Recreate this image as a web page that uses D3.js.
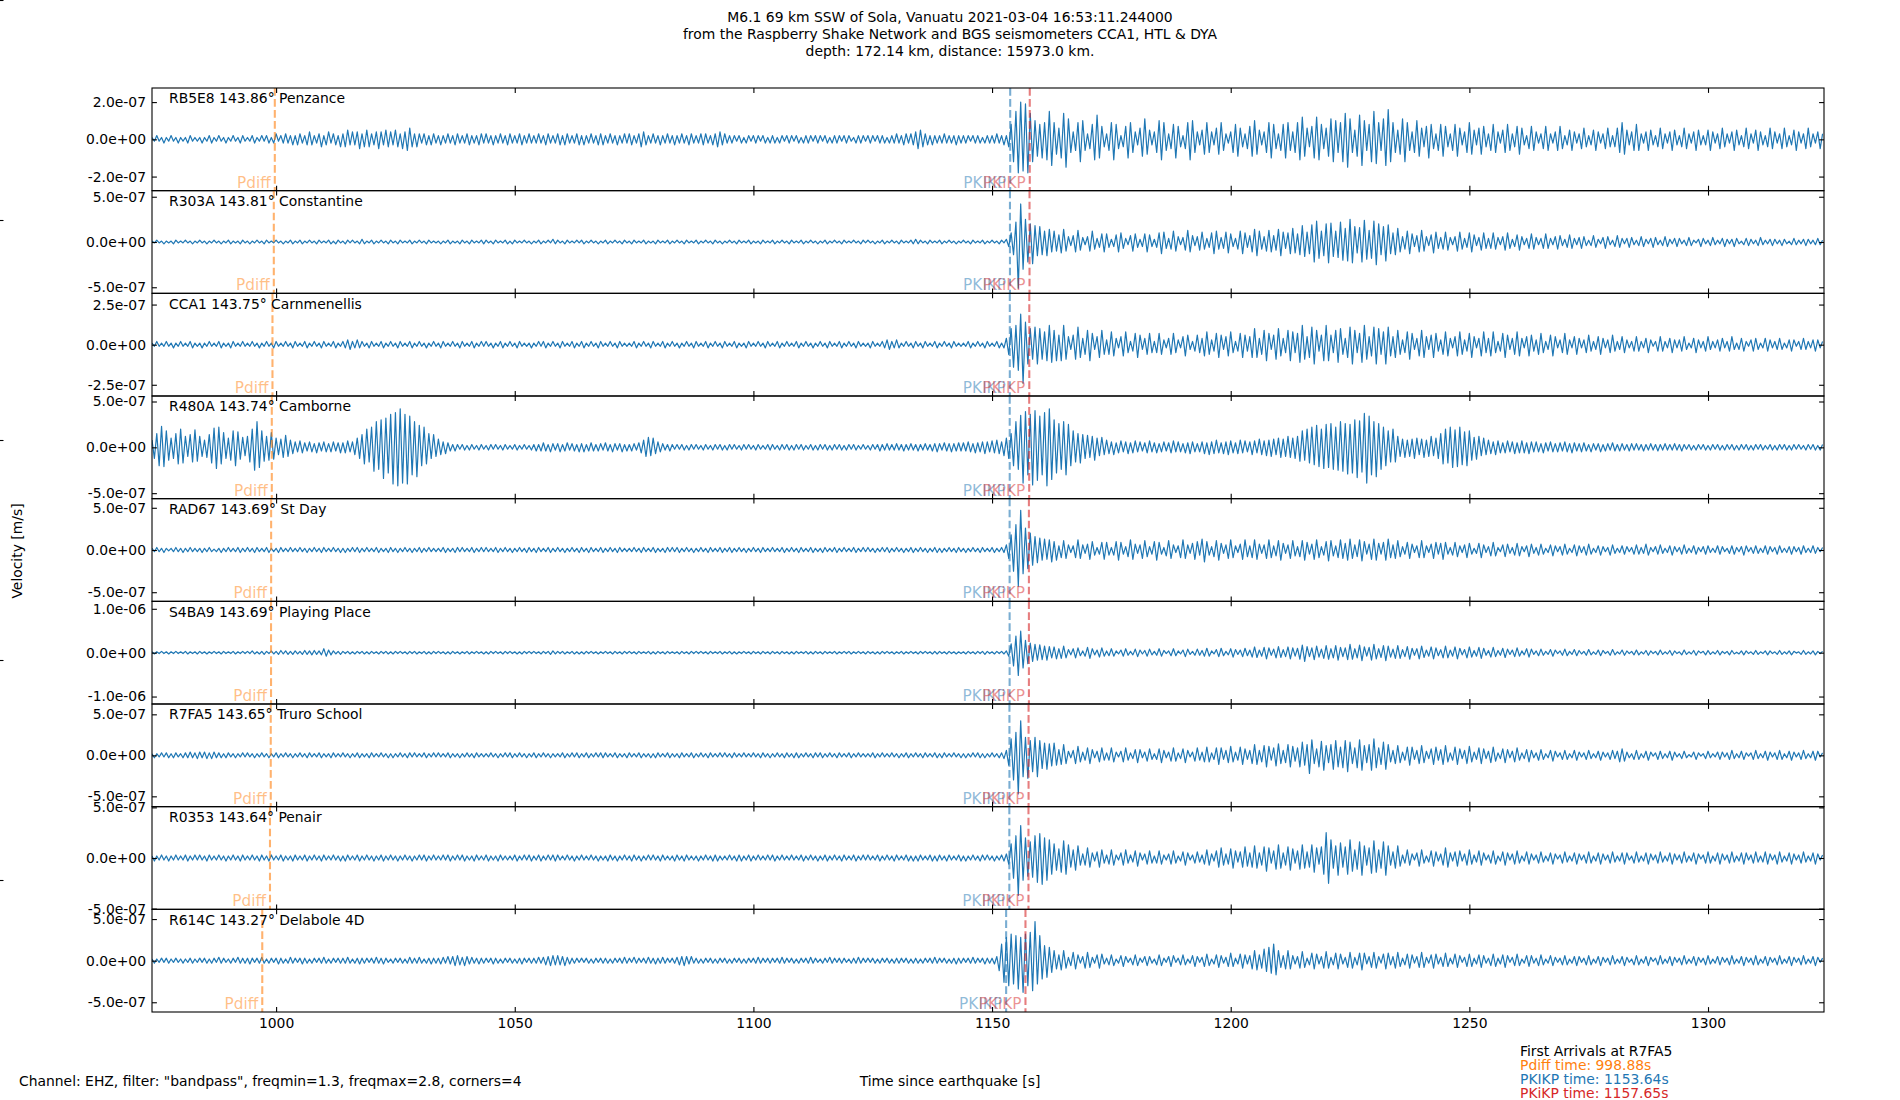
<!DOCTYPE html>
<html><head><meta charset="utf-8">
<script src="https://cdn.jsdelivr.net/npm/d3@7"></script>
<style>body{margin:0;background:#fff} svg{display:block} text{font-family:"DejaVu Sans",sans-serif}</style>
</head><body><svg id="c" width="1900" height="1100"></svg>
<script>
// ---------------- data ----------------
const titleLines = [
  "M6.1 69 km SSW of Sola, Vanuatu 2021-03-04 16:53:11.244000",
  "from the Raspberry Shake Network and BGS seismometers CCA1, HTL & DYA",
  "depth: 172.14 km, distance: 15973.0 km."
];
const stations = ["RB5E8","R303A","CCA1","R480A","RAD67","S4BA9","R7FA5","R0353","R614C"];
const distances = ["143.86","143.81","143.75","143.74","143.69","143.69","143.65","143.64","143.27"];
const places = ["Penzance","Constantine","Carnmenellis","Camborne","St Day","Playing Place","Truro School","Penair","Delabole 4D"];
const pdiffTimes = [999.73,999.52,999.24,999.10,998.96,998.94,998.88,998.72,997.10];
const pkikpTimes = [1153.80,1153.75,1153.72,1153.70,1153.68,1153.68,1153.64,1153.62,1152.95];
const pkikp2Times = [1157.90,1157.85,1157.80,1157.78,1157.72,1157.72,1157.65,1157.63,1157.00];
const yLimits = [2.757e-7,5.67e-7,3.2e-7,5.6e-7,6.08e-7,1.17e-6,6.26e-7,5.07e-7,6.17e-7];
const yTickValues = [2e-7,5e-7,2.5e-7,5e-7,5e-7,1e-6,5e-7,5e-7,5e-7];
const xTickValues = [1000,1050,1100,1150,1200,1250,1300];
const xDomain = [974.0,1324.3];
const tStart = 974, dt = 0.5;   // sample times: tStart + i*dt  [s]
const unit = 1e-8;              // trace values are in units of 1e-8 m/s
const arrivalNames = ["Pdiff","PKIKP","PKiKP"];
const firstArrivals = ["First Arrivals at R7FA5","Pdiff time: 998.88s","PKIKP time: 1153.64s","PKiKP time: 1157.65s"];
const footer = 'Channel: EHZ, filter: "bandpass", freqmin=1.3, freqmax=2.8, corners=4';

const traceRB5E8 = [
1,-1,2,-1,1,-2,1,-1,2,-1,1,-2,1,-1,1,-2,2,-1,1,-1,
1,-2,1,-1,2,-2,1,-1,2,-1,1,-2,1,-1,2,-1,1,-2,2,-1,
1,-1,2,-2,1,-1,2,-1,2,-2,1,-2,3,-1,2,-2,3,-2,2,-3,
2,-3,3,-2,2,-3,4,-3,2,-2,3,-4,2,-3,4,-2,3,-3,2,-4,
3,-4,5,-3,4,-3,4,-5,3,-4,5,-4,3,-3,4,-5,4,-3,5,-4,
4,-3,5,-4,3,-5,4,-6,6,-4,3,-4,3,-2,3,-3,2,-3,3,-2,
2,-3,2,-2,3,-2,2,-3,3,-2,2,-2,3,-3,2,-2,2,-3,3,-2,
3,-2,2,-3,2,-2,3,-2,2,-3,3,-2,2,-2,3,-3,2,-2,3,-2,
2,-2,3,-2,2,-3,3,-2,2,-2,3,-3,2,-3,3,-2,2,-2,3,-3,
2,-3,2,-2,3,-2,2,-3,3,-3,2,-2,3,-2,2,-3,2,-2,3,-2,
3,-3,2,-2,3,-4,4,-3,2,-2,3,-2,2,-3,2,-2,3,-2,2,-3,
2,-2,3,-2,2,-3,3,-2,2,-2,3,-3,3,-2,2,-3,3,-4,4,-3,
3,-2,2,-2,2,-1,2,-2,1,-2,2,-1,2,-2,2,-1,2,-2,1,-2,
2,-2,1,-2,2,-1,2,-2,2,-1,2,-2,1,-2,2,-2,2,-1,2,-2,
2,-1,2,-2,1,-2,2,-2,2,-1,2,-2,2,-1,1,-2,2,-2,2,-1,
2,-2,2,-1,2,-2,2,-2,1,-2,2,-2,3,-2,2,-3,3,-2,3,-3,
4,-5,5,-4,3,-3,2,-3,2,-2,2,-2,3,-2,2,-2,2,-3,2,-2,
2,-2,2,-1,2,-2,2,-2,1,-2,2,-2,2,-2,3,-2,2,-3,2,-4,
8,-12,15,-18,20,-17,19,-18,14,-12,10,-9,8,-10,9,-11,15,-14,9,-8,
6,-10,14,-15,11,-7,4,-6,9,-12,10,-6,3,-5,8,-11,13,-10,7,-4,
3,-6,9,-11,8,-5,2,-4,7,-10,9,-7,4,-3,6,-9,11,-8,5,-3,
4,-7,10,-11,9,-6,3,-5,8,-10,7,-4,2,-5,9,-11,10,-7,4,-3,
5,-8,9,-7,4,-3,6,-8,9,-6,3,-2,4,-7,8,-9,6,-4,3,-5,
7,-9,10,-8,5,-3,4,-7,9,-10,8,-5,3,-6,8,-10,9,-6,4,-7,
9,-11,12,-9,6,-4,7,-10,12,-11,8,-5,6,-9,11,-12,10,-7,9,-12,
14,-15,11,-7,5,-9,13,-14,10,-6,8,-12,15,-13,9,-6,11,-14,16,-12,
9,-7,5,-8,11,-12,9,-6,4,-7,10,-9,6,-4,7,-10,8,-5,3,-6,
8,-9,7,-4,3,-6,8,-9,6,-3,4,-7,9,-8,5,-3,6,-8,7,-4,
3,-6,8,-7,4,-2,5,-7,8,-6,3,-4,7,-8,6,-3,2,-5,7,-6,
4,-2,3,-5,7,-6,3,-2,4,-6,7,-5,2,-3,5,-6,4,-2,3,-5,
6,-4,2,-3,5,-6,4,-2,3,-5,6,-4,2,-4,6,-7,9,-8,5,-3,
4,-6,8,-6,3,-2,4,-6,5,-3,2,-4,6,-5,3,-2,4,-6,5,-3,
2,-4,6,-5,3,-2,4,-6,5,-3,2,-3,5,-6,4,-2,3,-5,6,-4,
3,-2,4,-6,5,-3,2,-4,6,-5,3,-2,5,-6,4,-3,2,-4,6,-5,
4,-2,3,-5,6,-4,2,-3,5,-6,4,-2,3,-5,6,-4,3,-2,4,-5,
3];
const traceR303A = [
1,-1,2,-1,1,-2,1,-1,1,-2,2,-1,1,-1,2,-1,1,-2,1,-1,
2,-1,1,-2,1,-1,2,-1,1,-2,1,-1,2,-2,1,-1,1,-2,2,-1,
1,-2,1,-1,2,-1,1,-2,2,-1,1,-1,2,-1,1,-2,1,-1,2,-2,
1,-1,2,-2,1,-1,2,-1,1,-2,2,-1,1,-1,2,-2,1,-2,2,-1,
1,-2,2,-1,2,-1,1,-2,3,-2,1,-1,2,-2,1,-1,2,-1,1,-2,
2,-1,1,-2,2,-1,1,-1,2,-2,1,-1,2,-1,1,-2,2,-1,1,-1,
1,-2,1,-1,2,-2,1,-1,1,-2,2,-1,1,-2,2,-1,1,-1,2,-2,
2,-1,1,-2,2,-1,1,-1,2,-2,1,-2,2,-1,1,-1,2,-1,1,-2,
1,-1,2,-2,1,-1,2,-1,3,-2,2,-1,1,-2,2,-1,1,-1,2,-1,
2,-2,1,-1,2,-1,1,-2,1,-1,2,-2,1,-1,2,-1,1,-2,2,-1,
1,-2,2,-1,1,-1,2,-2,1,-1,1,-2,2,-1,1,-1,2,-2,1,-1,
2,-1,1,-2,2,-1,1,-1,2,-2,1,-1,2,-1,1,-2,2,-1,1,-2,
1,-1,2,-1,1,-2,2,-1,1,-1,2,-2,1,-1,1,-2,2,-1,1,-1,
2,-2,1,-1,2,-1,1,-2,2,-1,1,-1,2,-2,1,-1,2,-1,1,-2,
1,-1,2,-2,1,-1,2,-1,1,-2,2,-1,1,-1,2,-1,1,-2,2,-1,
2,-1,1,-2,1,-1,2,-2,1,-1,2,-1,1,-2,2,-1,1,-1,2,-2,
3,-2,2,-1,1,-2,2,-1,1,-1,2,-2,1,-1,2,-1,1,-2,1,-1,
2,-1,1,-2,2,-1,1,-1,2,-2,1,-1,2,-1,1,-2,2,-1,3,-5,
10,-14,22,-51,42,-30,25,-22,20,-24,18,-15,17,-14,12,-15,14,-11,12,-10,
8,-12,14,-10,6,-4,7,-11,13,-9,5,-3,6,-10,12,-8,4,-6,9,-11,
9,-6,3,-5,8,-11,10,-7,4,-3,7,-10,9,-6,3,-5,9,-11,8,-5,
3,-6,10,-13,11,-7,4,-8,12,-10,6,-3,5,-9,13,-11,7,-4,6,-9,
11,-8,4,-6,10,-13,12,-8,5,-7,11,-12,9,-5,4,-8,12,-13,10,-6,
7,-11,14,-15,12,-8,6,-10,13,-11,7,-9,14,-15,11,-7,10,-13,15,-12,
9,-14,18,-16,11,-13,19,-22,23,-18,12,-15,20,-23,21,-16,12,-17,22,-20,
15,-21,25,-23,17,-12,16,-22,24,-19,13,-18,23,-25,20,-14,17,-21,19,-13,
10,-14,15,-11,6,-8,12,-13,9,-5,7,-11,13,-10,6,-4,8,-12,11,-7,
5,-8,11,-9,5,-3,6,-10,11,-8,4,-6,10,-11,8,-4,5,-9,10,-7,
4,-7,10,-8,5,-3,6,-9,10,-7,3,-5,8,-9,6,-3,4,-7,9,-8,
5,-3,4,-7,9,-7,4,-3,6,-8,7,-4,3,-6,8,-7,4,-3,5,-7,
6,-4,2,-4,7,-6,3,-2,5,-7,6,-3,2,-5,7,-6,4,-2,4,-6,
5,-3,2,-4,6,-5,3,-2,4,-6,5,-3,2,-4,6,-5,3,-2,4,-5,
4,-2,2,-4,5,-4,2,-1,3,-5,4,-2,2,-4,5,-3,2,-2,4,-5,
3,-2,3,-5,4,-2,1,-3,4,-4,3,-2,2,-4,5,-3,2,-2,3,-4,
3,-2,2,-4,3,-2,1,-3,4,-3,2,-2,3,-4,3,-2,2,-3,4,-3,
2];
const traceCCA1 = [
1,-1,2,-1,1,-1,2,-1,1,-2,1,-1,2,-1,1,-1,2,-2,1,-1,
1,-2,1,-1,2,-1,1,-1,2,-2,1,-1,1,-2,2,-1,1,-1,2,-1,
1,-1,2,-1,1,-2,1,-1,2,-1,1,-2,2,-1,1,-1,2,-1,1,-2,
2,-1,1,-1,2,-2,1,-1,2,-1,1,-2,2,-1,1,-1,2,-2,1,-1,
2,-2,3,-3,2,-2,3,-2,2,-1,1,-2,2,-1,1,-1,2,-2,1,-1,
2,-1,1,-2,2,-1,1,-1,2,-2,1,-1,2,-1,1,-2,1,-1,2,-1,
1,-2,2,-1,1,-1,2,-1,1,-2,2,-1,1,-1,2,-2,1,-1,2,-1,
2,-1,1,-2,1,-1,2,-2,1,-1,2,-1,1,-2,2,-1,1,-1,1,-2,
1,-1,2,-1,2,-2,1,-1,2,-1,1,-2,2,-1,1,-1,2,-2,1,-1,
2,-2,1,-1,2,-1,1,-2,2,-1,1,-1,2,-1,1,-2,2,-1,1,-1,
1,-1,2,-2,1,-1,2,-1,1,-2,2,-1,1,-1,2,-2,1,-1,2,-1,
1,-2,1,-1,2,-1,1,-2,2,-1,1,-1,2,-2,1,-1,2,-1,1,-2,
2,-1,1,-1,2,-2,1,-1,1,-2,2,-1,1,-1,2,-1,1,-2,2,-1,
1,-1,2,-2,1,-1,2,-1,1,-1,2,-2,1,-1,2,-1,1,-2,1,-1,
2,-1,1,-2,2,-1,1,-1,2,-2,1,-1,2,-1,1,-2,2,-1,1,-1,
1,-2,2,-1,1,-1,2,-2,3,-3,2,-2,3,-2,1,-1,2,-1,1,-2,
2,-1,1,-2,2,-1,1,-1,2,-2,1,-1,2,-1,1,-2,2,-1,1,-1,
1,-1,2,-2,1,-1,2,-1,1,-2,2,-1,1,-1,2,-2,1,-2,4,-6,
10,-14,12,-16,19,-24,14,-12,10,-9,11,-12,10,-9,8,-10,12,-11,9,-10,
6,-10,12,-9,5,-3,6,-9,11,-8,4,-6,9,-10,7,-3,5,-8,9,-6,
3,-6,8,-7,4,-2,5,-7,8,-5,2,-4,7,-8,6,-3,4,-6,7,-5,
2,-5,7,-6,3,-2,4,-6,7,-5,3,-2,5,-7,6,-3,2,-4,6,-5,
4,-7,8,-6,3,-4,7,-8,6,-3,5,-7,8,-5,2,-4,7,-8,6,-4,
5,-8,10,-8,4,-6,9,-10,7,-3,6,-9,10,-7,4,-5,9,-10,8,-5,
7,-11,12,-9,5,-8,11,-12,9,-4,6,-10,12,-10,6,-5,9,-11,10,-6,
4,-8,11,-12,9,-5,7,-11,12,-9,5,-7,11,-12,10,-6,8,-12,11,-7,
5,-8,9,-6,3,-5,8,-9,7,-3,4,-7,9,-8,5,-3,6,-8,7,-4,
3,-6,8,-7,4,-2,5,-7,8,-6,3,-4,7,-8,5,-2,4,-7,8,-5,
4,-7,8,-5,2,-4,7,-8,6,-3,4,-6,8,-7,4,-2,5,-7,6,-4,
3,-6,7,-5,2,-3,6,-7,5,-2,3,-5,7,-6,3,-2,5,-6,4,-2,
3,-5,6,-4,2,-3,5,-6,4,-2,3,-5,6,-4,2,-3,5,-5,3,-2,
2,-4,5,-4,2,-2,4,-5,3,-1,2,-4,5,-4,2,-2,4,-5,3,-2,
3,-4,5,-3,1,-2,4,-5,3,-2,2,-4,5,-3,2,-2,3,-4,4,-2,
2,-4,5,-3,1,-3,4,-4,2,-1,3,-4,4,-3,1,-2,4,-4,3,-2,
2,-3,4,-3,1,-2,3,-4,3,-1,2,-3,4,-3,2,-2,3,-4,3,-2,
2];
const traceR480A = [
8,-12,15,-20,23,-21,18,-14,10,-12,15,-18,20,-17,12,-10,14,-16,19,-15,
12,-10,8,-11,14,-17,21,-23,22,-18,16,-12,10,-14,18,-20,17,-13,11,-9,
12,-16,20,-25,28,-22,18,-15,12,-14,16,-13,10,-8,9,-11,13,-10,8,-7,
6,-5,7,-6,5,-4,6,-5,4,-6,5,-4,6,-5,4,-5,6,-4,5,-6,
5,-6,7,-5,6,-8,10,-12,14,-18,20,-16,22,-26,28,-24,30,-34,32,-28,
36,-40,38,-42,42,-39,36,-40,34,-30,28,-32,24,-20,22,-18,15,-12,14,-10,
9,-8,6,-7,5,-4,3,-4,3,-2,3,-3,2,-3,3,-2,2,-3,3,-2,
2,-3,3,-2,3,-2,2,-3,3,-2,2,-2,3,-3,2,-2,3,-2,2,-3,
3,-4,3,-4,5,-4,3,-5,4,-3,4,-5,3,-4,5,-3,4,-4,3,-5,
4,-5,3,-4,5,-4,3,-4,4,-3,5,-4,3,-5,4,-3,4,-5,3,-4,
3,-4,4,-3,5,-6,8,-10,11,-9,10,-7,6,-5,4,-3,3,-4,3,-2,
3,-2,3,-3,2,-3,3,-2,3,-2,2,-3,3,-2,2,-3,3,-2,3,-3,
2,-3,3,-2,3,-2,2,-3,3,-2,3,-2,2,-3,3,-2,2,-2,3,-3,
3,-2,2,-3,3,-2,3,-3,2,-3,3,-2,3,-3,2,-2,3,-3,2,-3,
3,-2,3,-3,2,-3,3,-2,3,-3,2,-3,3,-2,3,-3,2,-2,3,-2,
2,-3,3,-2,3,-4,3,-3,4,-3,3,-3,4,-3,3,-4,3,-3,4,-3,
3,-4,3,-3,4,-3,3,-4,4,-5,4,-3,5,-4,4,-5,4,-4,5,-4,
5,-4,6,-5,4,-6,5,-5,6,-7,6,-5,7,-6,8,-7,6,-9,10,-12,
15,-20,28,-24,35,-39,39,-30,36,-41,40,-36,34,-30,38,-42,42,-35,30,-28,
26,-24,28,-30,25,-20,18,-16,15,-17,14,-12,13,-11,12,-14,10,-9,11,-8,
8,-7,6,-8,5,-6,7,-5,6,-7,5,-6,7,-5,6,-4,5,-6,7,-5,
5,-6,4,-5,6,-4,5,-6,7,-5,6,-5,4,-6,5,-7,6,-5,4,-5,
6,-7,5,-8,6,-7,8,-6,5,-7,6,-8,7,-6,5,-7,8,-6,7,-5,
6,-8,7,-6,9,-8,7,-9,8,-10,9,-8,10,-11,9,-10,12,-11,10,-12,
12,-15,18,-14,20,-17,22,-19,24,-21,20,-23,25,-22,26,-24,22,-25,28,-26,
26,-29,25,-28,30,-33,29,-27,37,-39,34,-30,28,-32,26,-24,22,-20,18,-16,
20,-16,12,-10,9,-11,8,-10,9,-12,10,-8,9,-11,8,-10,12,-9,10,-12,
15,-18,20,-17,22,-22,19,-21,22,-19,17,-20,18,-14,11,-13,12,-9,10,-8,
8,-7,6,-8,7,-6,5,-6,7,-5,6,-7,5,-6,7,-6,5,-7,6,-5,
6,-5,4,-6,5,-4,6,-5,4,-5,5,-4,6,-5,4,-6,5,-4,4,-5,
5,-4,3,-5,4,-3,4,-5,3,-4,4,-3,5,-4,3,-4,4,-3,3,-4,
4,-3,4,-3,3,-4,3,-3,4,-3,3,-4,3,-3,4,-3,3,-3,4,-3,
3,-4,3,-2,3,-3,2,-3,3,-2,3,-3,2,-3,3,-2,3,-3,2,-3,
3,-2,3,-3,2,-3,3,-2,3,-3,2,-3,3,-2,3,-3,2,-2,3,-3,
2,-3,3,-2,3,-3,2,-3,3,-2,3,-2,2,-3,3,-2,3,-3,2,-3,
3];
const traceRAD67 = [
2,-2,3,-2,2,-3,2,-1,2,-2,3,-2,2,-3,2,-2,3,-2,2,-2,
2,-3,2,-2,3,-2,1,-2,2,-3,2,-2,3,-2,2,-2,3,-3,2,-2,
3,-2,2,-3,3,-2,2,-2,3,-3,2,-2,2,-3,3,-2,2,-2,3,-2,
2,-2,3,-2,2,-3,2,-2,3,-2,2,-3,3,-2,2,-2,3,-2,2,-3,
2,-3,2,-2,3,-2,3,-3,2,-2,3,-2,2,-2,3,-3,2,-2,2,-3,
3,-2,2,-3,2,-2,3,-2,2,-3,2,-2,3,-3,2,-2,3,-2,2,-2,
2,-2,3,-3,2,-2,2,-3,3,-2,3,-2,2,-2,3,-3,2,-2,3,-2,
3,-2,2,-2,3,-3,2,-2,3,-2,2,-3,2,-2,3,-2,2,-3,3,-2,
2,-3,3,-2,2,-2,3,-3,2,-2,3,-2,2,-3,2,-2,3,-2,2,-3,
3,-2,2,-3,3,-2,2,-2,3,-3,2,-2,3,-2,2,-3,3,-2,2,-2,
2,-2,3,-2,2,-3,3,-2,2,-2,3,-3,2,-2,2,-3,3,-2,3,-2,
3,-3,2,-2,3,-2,2,-3,2,-2,3,-2,2,-3,3,-2,2,-2,3,-3,
2,-2,3,-3,2,-2,3,-2,2,-3,2,-2,3,-2,2,-3,3,-2,2,-2,
3,-2,2,-2,3,-3,2,-2,3,-2,2,-3,3,-2,2,-2,3,-3,2,-2,
2,-3,3,-2,2,-2,3,-3,2,-2,3,-2,2,-2,3,-3,2,-2,3,-2,
3,-2,2,-3,2,-2,3,-2,3,-3,2,-2,3,-2,2,-3,2,-2,3,-3,
2,-2,3,-2,2,-3,2,-2,3,-3,2,-3,2,-2,3,-2,2,-3,3,-2,
2,-3,2,-2,3,-2,2,-3,3,-2,2,-2,3,-3,2,-2,3,-3,6,-10,
18,-25,30,-43,47,-28,26,-22,20,-18,16,-15,14,-12,13,-11,12,-14,10,-12,
5,-9,11,-10,6,-3,5,-9,12,-10,6,-4,7,-11,10,-6,3,-5,9,-11,
9,-6,3,-6,10,-12,9,-5,4,-8,12,-11,7,-4,6,-10,11,-8,4,-5,
10,-12,9,-5,3,-7,11,-10,6,-3,5,-9,12,-10,6,-4,8,-11,10,-6,
13,-14,10,-6,4,-8,11,-12,8,-4,6,-10,12,-9,5,-3,7,-11,12,-8,
5,-9,12,-11,7,-4,6,-10,12,-9,5,-7,11,-12,8,-4,6,-10,11,-7,
4,-8,11,-12,9,-5,7,-11,12,-9,4,-6,10,-13,11,-7,5,-9,12,-10,
8,-12,13,-10,6,-8,12,-13,10,-5,7,-11,13,-12,8,-5,9,-12,13,-9,
6,-10,11,-8,4,-5,9,-10,7,-3,5,-9,11,-9,5,-3,7,-10,9,-5,
8,-11,9,-5,3,-6,9,-8,5,-3,6,-9,8,-5,2,-4,8,-9,6,-3,
4,-7,9,-7,3,-2,6,-8,7,-4,3,-6,8,-7,4,-2,5,-8,7,-4,
3,-6,7,-5,2,-3,6,-7,5,-2,4,-6,7,-5,2,-3,6,-7,5,-3,
4,-6,7,-5,2,-3,5,-6,4,-2,3,-6,6,-4,2,-3,5,-5,4,-2,
3,-5,6,-5,3,-4,7,-6,3,-2,4,-5,6,-4,2,-3,5,-6,4,-2,
3,-5,6,-4,2,-3,5,-5,3,-2,4,-5,5,-3,2,-3,5,-5,4,-2,
2,-4,5,-5,3,-2,4,-6,5,-2,3,-4,5,-4,2,-3,5,-5,4,-2,
3,-5,5,-3,2,-3,4,-5,4,-2,3,-5,5,-3,2,-3,5,-4,3,-2,
3];
const traceS4BA9 = [
2,-3,2,-2,3,-2,2,-3,2,-2,3,-2,2,-2,3,-3,2,-2,2,-3,
3,-2,2,-3,2,-2,3,-2,2,-3,3,-2,2,-2,3,-3,2,-2,3,-2,
3,-2,4,-3,2,-3,3,-4,3,-2,4,-3,3,-4,5,-3,4,-4,3,-4,
4,-3,3,-4,5,-4,4,-5,5,-4,4,-5,9,-8,6,-5,4,-3,3,-4,
3,-2,3,-3,2,-3,3,-2,3,-3,2,-3,3,-2,2,-3,3,-2,3,-3,
2,-3,3,-2,3,-2,2,-3,3,-2,3,-3,2,-2,3,-3,2,-3,3,-2,
3,-2,2,-3,2,-3,3,-2,2,-3,2,-2,3,-3,2,-2,3,-2,2,-3,
2,-3,3,-2,3,-2,2,-3,3,-2,3,-2,2,-3,2,-3,3,-2,3,-2,
3,-2,2,-3,3,-2,3,-4,4,-3,3,-2,3,-3,2,-2,3,-3,2,-3,
2,-3,3,-2,3,-2,2,-3,2,-2,3,-2,2,-3,3,-2,2,-3,3,-2,
3,-2,2,-3,3,-2,2,-2,3,-3,2,-3,3,-2,2,-3,3,-2,2,-2,
2,-3,3,-2,2,-3,3,-2,3,-2,3,-2,2,-3,3,-2,2,-2,3,-3,
2,-2,3,-3,2,-3,2,-2,3,-2,2,-3,3,-2,2,-3,3,-2,2,-3,
3,-2,2,-3,3,-2,2,-3,2,-3,3,-2,2,-2,3,-3,2,-3,3,-2,
2,-3,3,-2,2,-2,3,-3,2,-2,3,-2,3,-3,2,-2,3,-2,2,-3,
3,-2,2,-3,2,-3,3,-2,3,-2,2,-3,2,-2,3,-3,2,-2,3,-2,
2,-3,3,-2,3,-2,2,-3,3,-3,3,-2,2,-3,3,-2,2,-3,2,-2,
2,-3,3,-2,2,-3,3,-2,3,-4,3,-2,2,-3,3,-2,3,-3,4,-8,
20,-30,38,-52,49,-35,28,-25,22,-20,19,-17,18,-16,15,-17,14,-12,13,-14,
9,-13,15,-12,7,-5,9,-12,11,-7,4,-8,12,-13,9,-5,6,-10,11,-8,
4,-7,9,-8,4,-3,6,-8,9,-6,3,-5,8,-9,6,-3,5,-8,8,-5,
3,-6,9,-8,5,-2,4,-7,9,-7,4,-3,6,-9,8,-4,3,-6,8,-6,
5,-8,10,-8,4,-3,7,-9,10,-7,3,-5,9,-10,7,-4,6,-9,10,-7,
6,-10,13,-11,6,-8,12,-14,11,-6,8,-12,14,-11,7,-9,13,-14,11,-8,
10,-15,17,-20,14,-9,11,-16,15,-10,8,-13,16,-15,9,-12,16,-17,12,-9,
11,-16,19,-15,9,-12,17,-18,13,-8,12,-17,19,-14,9,-11,16,-18,15,-10,
8,-13,16,-13,7,-9,14,-15,10,-6,9,-14,15,-11,6,-8,13,-14,11,-7,
7,-12,15,-12,6,-8,13,-14,10,-5,7,-12,13,-10,5,-8,12,-13,10,-6,
5,-10,12,-9,5,-6,10,-11,8,-4,6,-9,11,-8,4,-5,9,-10,8,-4,
4,-7,8,-6,3,-4,7,-8,6,-2,4,-6,8,-7,3,-4,7,-7,5,-3,
3,-6,7,-5,2,-4,6,-7,5,-2,3,-6,7,-5,2,-3,6,-6,4,-2,
3,-5,6,-5,2,-3,5,-6,4,-2,3,-5,6,-4,2,-3,5,-6,4,-2,
2,-5,6,-4,2,-3,5,-6,4,-1,3,-5,5,-4,2,-3,5,-5,3,-2,
3,-5,5,-3,1,-3,4,-5,4,-2,2,-4,5,-4,2,-2,4,-5,4,-2,
2,-4,5,-4,2,-3,4,-5,3,-1,2,-4,5,-4,2,-3,4,-5,3,-2,
3];
const traceR7FA5 = [
2,-3,2,-2,3,-2,3,-3,2,-3,3,-2,2,-3,3,-3,4,-3,3,-4,
4,-3,4,-4,3,-4,4,-3,3,-3,2,-3,3,-2,2,-3,2,-2,3,-2,
3,-2,2,-3,2,-2,3,-2,2,-3,2,-2,3,-3,2,-2,3,-2,2,-3,
2,-2,3,-2,2,-3,3,-2,2,-2,3,-3,2,-2,2,-3,3,-2,2,-2,
3,-2,2,-3,2,-2,3,-3,2,-2,2,-3,3,-2,2,-2,3,-2,2,-3,
2,-3,2,-2,3,-2,2,-3,3,-2,3,-2,2,-2,3,-3,2,-2,3,-2,
3,-2,2,-2,3,-3,2,-2,2,-3,2,-2,3,-2,2,-3,3,-2,2,-2,
2,-2,3,-2,2,-3,2,-2,3,-2,3,-3,2,-2,3,-2,2,-3,2,-2,
3,-3,2,-2,3,-2,2,-3,2,-2,2,-2,3,-3,2,-2,3,-2,3,-3,
2,-2,3,-3,2,-2,3,-2,3,-3,3,-2,2,-2,3,-3,2,-2,2,-3,
3,-2,2,-2,3,-3,2,-2,2,-3,2,-3,3,-2,2,-2,3,-3,2,-2,
2,-3,3,-2,2,-2,3,-3,2,-2,3,-2,2,-3,3,-2,2,-2,3,-2,
3,-2,2,-3,3,-2,2,-2,3,-2,2,-2,3,-2,2,-3,3,-2,2,-3,
2,-2,3,-2,2,-3,3,-2,2,-3,3,-3,2,-2,3,-2,2,-3,3,-2,
3,-3,2,-2,3,-2,2,-3,3,-2,2,-2,3,-3,2,-2,3,-2,2,-2,
2,-2,3,-3,2,-2,3,-2,2,-2,3,-2,2,-3,2,-2,3,-3,2,-2,
3,-2,2,-3,3,-2,2,-2,3,-3,2,-3,3,-2,2,-2,3,-2,2,-3,
2,-3,2,-2,3,-2,3,-3,2,-3,2,-2,3,-2,2,-3,3,-4,6,-12,
20,-30,28,-47,42,-26,22,-28,18,-20,22,-26,18,-16,15,-17,14,-13,15,-12,
7,-11,13,-10,5,-3,6,-10,11,-8,4,-6,9,-10,7,-3,5,-8,9,-6,
3,-6,9,-8,4,-2,5,-8,9,-6,3,-4,7,-9,7,-3,4,-7,8,-5,
2,-5,8,-9,6,-3,4,-7,9,-7,3,-4,8,-9,6,-2,4,-7,9,-6,
4,-8,10,-8,3,-5,9,-11,9,-5,6,-9,11,-8,4,-6,10,-11,8,-5,
6,-10,13,-11,6,-8,12,-14,11,-6,9,-13,14,-10,6,-9,13,-14,11,-7,
9,-14,16,-12,13,-22,19,-10,8,-14,17,-18,12,-9,13,-17,18,-14,10,-15,
18,-20,16,-10,9,-15,19,-18,12,-9,13,-18,20,-15,9,-11,16,-17,13,-8,
6,-10,12,-9,4,-6,10,-12,10,-5,6,-10,12,-9,5,-4,8,-11,10,-6,
7,-11,12,-8,3,-6,10,-11,8,-4,6,-10,11,-8,4,-5,9,-10,8,-4,
5,-9,10,-7,3,-4,8,-9,7,-3,5,-8,9,-6,3,-4,7,-8,6,-3,
3,-6,7,-5,2,-3,6,-7,5,-2,3,-5,6,-5,2,-3,6,-6,4,-2,
3,-5,6,-4,2,-3,5,-6,4,-2,3,-5,6,-4,5,-8,8,-7,4,-3,
2,-5,6,-5,2,-3,5,-6,4,-1,3,-5,5,-4,2,-3,5,-6,4,-2,
2,-4,5,-3,1,-2,4,-5,3,-1,2,-4,5,-3,2,-2,4,-5,4,-2,
3,-5,6,-4,2,-3,5,-5,3,-1,3,-5,6,-4,2,-3,5,-6,4,-2,
3,-5,6,-5,2,-3,5,-6,4,-2,3,-5,6,-4,2,-3,5,-6,5,-2,
3];
const traceR0353 = [
2,-3,2,-2,3,-2,2,-3,2,-2,3,-2,2,-2,3,-3,2,-2,3,-2,
3,-2,2,-3,3,-2,2,-2,3,-2,2,-3,2,-2,3,-2,2,-3,3,-2,
2,-2,3,-2,2,-3,3,-2,2,-3,3,-2,2,-2,3,-3,2,-2,2,-3,
3,-2,2,-2,3,-3,2,-2,3,-2,2,-3,3,-2,2,-2,3,-2,2,-3,
2,-3,3,-2,2,-2,3,-3,2,-2,3,-2,2,-3,2,-2,3,-3,2,-2,
3,-2,2,-3,2,-2,3,-2,2,-3,2,-2,3,-2,3,-3,2,-2,3,-2,
2,-2,3,-2,3,-3,2,-2,3,-2,3,-3,2,-2,2,-3,3,-2,2,-2,
3,-3,2,-2,2,-3,3,-2,2,-2,2,-2,3,-3,2,-2,3,-2,3,-3,
2,-2,3,-3,2,-2,3,-2,3,-3,3,-2,2,-2,3,-2,2,-3,2,-2,
3,-2,2,-2,3,-2,2,-3,2,-2,2,-3,3,-2,2,-3,2,-2,3,-2,
2,-3,3,-2,2,-3,2,-2,3,-2,3,-2,2,-3,3,-2,2,-2,2,-3,
3,-2,2,-3,3,-2,2,-2,2,-3,2,-2,3,-2,2,-3,3,-3,2,-2,
2,-2,3,-2,2,-3,3,-3,2,-2,3,-3,2,-2,3,-2,2,-2,3,-2,
3,-3,2,-2,3,-2,2,-2,3,-2,2,-2,3,-3,2,-2,3,-2,2,-3,
2,-2,3,-3,2,-2,3,-2,2,-3,3,-2,2,-2,3,-3,2,-2,3,-2,
3,-2,2,-2,3,-3,2,-2,3,-2,2,-3,3,-2,2,-2,3,-3,2,-3,
2,-3,3,-2,2,-2,3,-3,2,-3,3,-2,2,-3,3,-2,2,-2,3,-3,
2,-3,2,-2,3,-2,2,-3,3,-2,3,-2,2,-3,2,-2,3,-3,4,-6,
14,-20,22,-37,32,-22,20,-18,16,-19,22,-24,24,-26,20,-22,18,-16,14,-12,
9,-14,17,-16,13,-9,8,-12,12,-7,4,-7,10,-9,5,-3,6,-9,8,-5,
3,-6,8,-7,3,-2,5,-7,8,-5,3,-4,7,-8,5,-2,4,-6,7,-5,
2,-5,7,-6,3,-2,4,-6,7,-5,2,-3,6,-7,5,-2,3,-5,6,-4,
3,-6,8,-7,4,-3,7,-9,10,-7,4,-6,9,-10,7,-4,6,-9,11,-8,
5,-9,12,-10,5,-7,11,-13,10,-5,7,-11,13,-10,5,-7,11,-12,9,-5,
7,-11,13,-10,6,-9,13,-14,10,-6,11,-16,25,-25,18,-10,12,-17,15,-9,
11,-16,18,-13,8,-11,16,-17,12,-7,10,-15,17,-14,8,-10,16,-17,12,-7,
6,-10,12,-8,3,-5,8,-7,4,-2,5,-8,8,-5,2,-4,7,-8,6,-3,
4,-7,10,-9,5,-3,6,-8,7,-3,4,-7,8,-6,3,-4,7,-7,5,-2,
3,-5,7,-6,2,-3,6,-7,5,-2,4,-6,7,-5,2,-3,6,-6,4,-2,
3,-5,6,-4,2,-3,5,-6,4,-1,3,-5,6,-4,2,-3,5,-6,4,-2,
3,-5,6,-5,2,-3,5,-6,4,-2,3,-5,6,-4,2,-3,5,-6,5,-2,
2,-5,6,-4,2,-3,5,-6,4,-2,3,-5,6,-4,2,-3,5,-6,4,-2,
3,-5,6,-4,2,-3,5,-6,4,-1,3,-5,6,-5,2,-3,5,-6,4,-2,
3,-5,6,-4,2,-3,5,-6,5,-2,3,-5,6,-4,2,-4,6,-6,4,-2,
3,-6,6,-4,2,-3,5,-6,4,-2,3,-5,6,-4,2,-3,5,-6,4,-2,
3];
const traceR614C = [
2,-3,2,-2,3,-2,3,-3,2,-2,3,-2,2,-3,2,-2,3,-3,2,-2,
3,-2,3,-3,2,-3,3,-2,4,-3,3,-2,2,-3,3,-2,4,-3,3,-3,
3,-4,3,-2,3,-3,4,-3,2,-3,3,-2,3,-4,3,-3,2,-3,4,-3,
3,-2,3,-4,3,-3,2,-3,3,-2,3,-3,4,-3,2,-3,3,-2,3,-3,
3,-3,4,-3,2,-3,3,-4,3,-3,3,-2,3,-3,4,-3,3,-4,3,-2,
2,-3,3,-2,3,-3,2,-3,4,-3,3,-3,4,-3,2,-3,3,-4,3,-3,
3,-4,4,-3,5,-4,5,-6,6,-5,4,-6,5,-4,4,-3,3,-4,3,-3,
3,-2,3,-4,3,-3,2,-3,3,-2,3,-3,2,-3,3,-4,3,-2,3,-3,
3,-3,4,-3,4,-5,5,-6,6,-5,6,-5,5,-6,4,-4,3,-3,3,-2,
3,-2,3,-3,2,-3,3,-2,3,-3,3,-3,2,-3,3,-2,3,-3,4,-3,
3,-2,4,-3,3,-2,3,-3,4,-3,3,-4,3,-3,4,-3,3,-2,3,-3,
4,-5,5,-6,5,-4,5,-3,3,-3,2,-3,3,-2,3,-3,2,-3,3,-2,
3,-3,2,-3,3,-2,3,-3,2,-3,3,-2,3,-3,4,-3,3,-2,3,-3,
3,-2,3,-3,4,-3,3,-2,3,-3,2,-3,3,-2,3,-3,4,-3,3,-2,
2,-3,3,-2,4,-3,3,-2,3,-3,3,-2,2,-3,3,-3,4,-3,3,-2,
3,-2,3,-3,2,-3,3,-2,3,-3,2,-3,3,-3,3,-2,3,-3,2,-3,
3,-3,2,-3,3,-2,3,-3,4,-3,3,-2,3,-3,2,-3,3,-4,3,-3,
3,-2,3,-3,4,-3,3,-2,3,-4,3,-3,3,-4,5,-12,20,-26,28,-30,
32,-28,30,-34,28,-38,32,-30,34,-36,47,-28,30,-22,18,-20,16,-14,12,-10,
7,-11,12,-9,4,-6,10,-10,7,-3,5,-9,10,-8,4,-3,7,-9,8,-4,
3,-5,7,-6,2,-3,6,-7,5,-2,3,-5,7,-6,3,-2,5,-6,5,-3,
2,-5,7,-6,3,-2,5,-7,6,-2,3,-5,7,-5,2,-3,6,-7,5,-2,
4,-7,8,-6,2,-4,7,-8,6,-3,4,-7,9,-7,3,-4,8,-9,7,-4,
6,-10,12,-11,7,-9,14,-13,16,-15,20,-17,12,-8,6,-10,12,-10,6,-4,
5,-9,11,-8,3,-5,9,-10,8,-4,5,-9,11,-9,4,-5,9,-10,8,-4,
4,-8,10,-9,4,-5,9,-11,9,-4,5,-8,10,-9,5,-3,8,-10,9,-5,
5,-9,10,-7,3,-5,8,-9,7,-3,5,-8,10,-8,4,-3,7,-9,8,-4,
4,-7,9,-7,3,-4,8,-8,6,-2,4,-7,8,-7,3,-4,7,-8,6,-3,
3,-6,8,-7,3,-4,7,-8,6,-2,4,-6,8,-6,2,-3,6,-7,6,-3,
3,-6,7,-5,2,-3,6,-6,4,-2,3,-5,6,-5,2,-3,5,-6,5,-2,
3,-5,6,-5,2,-3,5,-6,4,-2,3,-5,6,-4,2,-3,5,-6,4,-2,
2,-5,6,-5,2,-3,5,-6,4,-1,3,-5,6,-4,2,-3,5,-6,4,-2,
3,-5,6,-4,2,-3,5,-6,4,-2,3,-5,6,-4,2,-3,5,-5,4,-2,
3,-5,6,-4,2,-3,5,-6,4,-2,3,-5,6,-5,2,-3,5,-6,4,-2,
3,-5,6,-4,2,-3,5,-6,4,-2,3,-5,6,-4,2,-3,5,-6,4,-2,
3];
const traces = [traceRB5E8,traceR303A,traceCCA1,traceR480A,traceRAD67,traceS4BA9,traceR7FA5,traceR0353,traceR614C];

// ---------------- drawing ----------------
const svg = d3.select("#c");
const L = 152, R = 1824, T = 88, B = 1012;
const n = stations.length, ph = (B - T) / n;
const FS = 13.9, FSA = 15.3, TICK = 4.9, SW = 1.1;
const traceColor = "#1f77b4";
const arrColors = ["#ff7f0e", "#1f77b4", "#d62728"];
const x = d3.scaleLinear().domain(xDomain).range([L, R]);
const fmt = v => {
  const s = v.toExponential(1);
  const [m, e] = s.split("e");
  const sign = e[0] === "-" ? "-" : "+";
  return m + "e" + sign + e.replace(/[+-]/, "").padStart(2, "0");
};

svg.append("rect").attr("width", 1900).attr("height", 1100).attr("fill", "#fff");

titleLines.forEach((t, k) => {
  svg.append("text").attr("x", 950).attr("y", 22 + k * 17).attr("text-anchor", "middle")
    .attr("font-size", FS).attr("fill", "#000").text(t);
});

[0, 220, 440, 660, 880].forEach(v => {
  svg.append("line").attr("x1", 0).attr("x2", 3.5).attr("y1", v + 0.5).attr("y2", v + 0.5)
    .attr("stroke", "#000").attr("stroke-width", SW);
});

function styleAxis(g) {
  g.select(".domain").remove();
  g.selectAll(".tick line").attr("stroke", "#000").attr("stroke-width", SW);
  g.selectAll(".tick text").attr("fill", "#000").attr("font-size", FS).attr("font-family", '"DejaVu Sans",sans-serif');
}

for (let i = 0; i < n; i++) {
  const top = T + i * ph, bot = top + ph;
  const y = d3.scaleLinear().domain([-yLimits[i], yLimits[i]]).range([bot, top]);
  const g = svg.append("g");
  const cid = "clip" + i;
  svg.append("clipPath").attr("id", cid).append("rect")
    .attr("x", L).attr("y", top).attr("width", R - L).attr("height", ph);

  const line = d3.line().x((d, j) => x(tStart + j * dt)).y(d => y(d * unit));
  g.append("path").datum(traces[i]).attr("d", line).attr("fill", "none")
    .attr("stroke", traceColor).attr("stroke-width", 1.2).attr("stroke-linejoin", "round")
    .attr("clip-path", `url(#${cid})`);

  const times = [pdiffTimes[i], pkikpTimes[i], pkikp2Times[i]];
  times.forEach((t, k) => {
    g.append("line").attr("x1", x(t)).attr("x2", x(t)).attr("y1", top).attr("y2", bot)
      .attr("stroke", arrColors[k]).attr("stroke-opacity", 0.6).attr("stroke-width", 2.08)
      .attr("stroke-dasharray", "7.7,3.3");
  });
  times.forEach((t, k) => {
    g.append("text").attr("x", x(t) - 4).attr("y", bot - 3).attr("text-anchor", "end")
      .attr("font-size", FSA).attr("fill", arrColors[k]).attr("fill-opacity", 0.5).text(arrivalNames[k]);
  });

  g.append("text").attr("x", L + 17).attr("y", top + 15.3).attr("font-size", FS).attr("fill", "#000")
    .text(`${stations[i]} ${distances[i]}° ${places[i]}`);

  const tv = yTickValues[i];
  const yl = g.append("g").attr("transform", `translate(${L},0)`)
    .call(d3.axisLeft(y).tickValues([-tv, 0, tv]).tickSize(-TICK).tickPadding(6).tickFormat(fmt));
  styleAxis(yl);
  const yr = g.append("g").attr("transform", `translate(${R},0)`)
    .call(d3.axisRight(y).tickValues([-tv, 0, tv]).tickSize(-TICK).tickFormat(""));
  styleAxis(yr);
  const xt = g.append("g").attr("transform", `translate(0,${top})`)
    .call(d3.axisTop(x).tickValues(xTickValues).tickSize(-TICK).tickFormat(""));
  styleAxis(xt);
  const xb = g.append("g").attr("transform", `translate(0,${bot})`)
    .call(d3.axisBottom(x).tickValues(xTickValues).tickSize(-TICK).tickPadding(6)
      .tickFormat(i === n - 1 ? d3.format("d") : ""));
  styleAxis(xb);

  g.append("rect").attr("x", L).attr("y", top).attr("width", R - L).attr("height", ph)
    .attr("fill", "none").attr("stroke", "#000").attr("stroke-width", SW);
}

svg.append("text").attr("transform", "translate(22,551) rotate(-90)").attr("text-anchor", "middle")
  .attr("font-size", FS).attr("fill", "#000").text("Velocity [m/s]");
svg.append("text").attr("x", 950).attr("y", 1086).attr("text-anchor", "middle")
  .attr("font-size", FS).attr("fill", "#000").text("Time since earthquake [s]");
svg.append("text").attr("x", 19).attr("y", 1086).attr("font-size", FS).attr("fill", "#000").text(footer);
const faColors = ["#000", "#ff7f0e", "#1f77b4", "#d62728"];
firstArrivals.forEach((t, k) => {
  svg.append("text").attr("x", 1520).attr("y", 1056 + k * 14).attr("font-size", FS)
    .attr("fill", faColors[k]).text(t);
});
</script></body></html>
